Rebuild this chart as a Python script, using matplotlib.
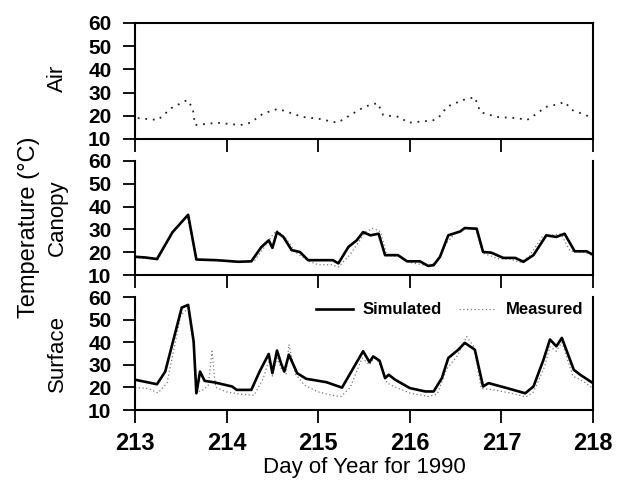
import matplotlib
matplotlib.use("Agg")
import matplotlib.pyplot as plt
from matplotlib.lines import Line2D

plt.rcParams['font.family'] = ['Liberation Sans', 'DejaVu Sans']

# ---------------- data ----------------
air_day = [213.03, 213.25, 213.40, 213.57, 213.63, 213.655, 213.90, 214.15, 214.26, 214.40,
           214.56, 214.67, 214.83, 215.02, 215.21, 215.38, 215.51, 215.65, 215.71, 215.89,
           215.98, 216.25, 216.31, 216.41, 216.58, 216.71, 216.77, 216.95, 217.17, 217.28,
           217.39, 217.48, 217.62, 217.69, 217.77, 217.86, 217.97]
air_meas = [19.0, 18.2, 23.4, 26.8, 23.4, 16.0, 17.0, 16.0, 17.0, 21.0,
            23.0, 21.6, 19.5, 18.6, 17.0, 21.0, 24.0, 25.5, 20.3, 19.5,
            17.0, 18.0, 19.0, 24.0, 26.8, 28.0, 21.6, 19.5, 19.0, 18.2,
            21.0, 23.8, 25.0, 26.0, 22.5, 21.2, 19.5]

can_sim_day = [213.00, 213.11, 213.24, 213.41, 213.58, 213.67, 213.89, 214.13, 214.27, 214.38,
               214.46, 214.50, 214.55, 214.62, 214.71, 214.80, 214.89, 215.02, 215.16, 215.22,
               215.33, 215.42, 215.49, 215.57, 215.66, 215.73, 215.87, 215.97, 216.11, 216.20,
               216.26, 216.33, 216.42, 216.55, 216.60, 216.73, 216.80, 216.89, 217.02, 217.15,
               217.24, 217.35, 217.49, 217.60, 217.69, 217.80, 217.93, 218.00]
can_sim = [18.0, 17.7, 17.0, 28.8, 36.4, 16.8, 16.5, 15.8, 16.0, 22.3,
           25.2, 21.9, 28.8, 26.7, 20.9, 20.1, 16.5, 16.5, 16.5, 15.1,
           22.3, 25.2, 28.8, 27.4, 28.1, 18.7, 18.7, 16.0, 16.0, 14.0,
           14.3, 18.0, 27.4, 29.1, 30.6, 30.3, 20.1, 19.8, 17.5, 17.5,
           15.8, 18.7, 27.4, 26.7, 28.1, 20.4, 20.4, 18.9]

can_meas_day = [213.00, 213.15, 213.25, 213.40, 213.57, 213.67, 213.90, 214.15, 214.30, 214.40,
                214.50, 214.55, 214.65, 214.75, 214.90, 215.00, 215.15, 215.22, 215.35, 215.45,
                215.52, 215.60, 215.68, 215.75, 215.90, 216.00, 216.20, 216.30, 216.40, 216.50,
                216.60, 216.72, 216.80, 216.98, 217.10, 217.20, 217.30, 217.45, 217.55, 217.65,
                217.75, 217.90, 218.00]
can_meas = [17.5, 17.2, 16.8, 28.0, 36.0, 16.5, 16.3, 15.5, 16.0, 21.5,
            27.5, 29.5, 26.0, 20.0, 16.0, 14.5, 14.5, 13.5, 19.0, 25.0,
            29.0, 30.5, 29.0, 18.5, 18.2, 15.5, 14.0, 16.0, 24.0, 28.5,
            30.5, 30.0, 19.5, 17.0, 17.0, 15.5, 18.0, 27.0, 27.5, 28.0,
            20.5, 20.0, 18.5]

sur_sim_day = [213.00, 213.24, 213.33, 213.51, 213.58, 213.64, 213.67, 213.71, 213.76, 213.87,
               214.06, 214.11, 214.27, 214.36, 214.46, 214.50, 214.55, 214.60, 214.63, 214.68,
               214.77, 214.87, 215.09, 215.26, 215.33, 215.49, 215.56, 215.60, 215.67, 215.73,
               215.77, 215.84, 216.00, 216.17, 216.26, 216.35, 216.42, 216.53, 216.60, 216.71,
               216.80, 216.86, 217.06, 217.26, 217.35, 217.46, 217.53, 217.60, 217.66, 217.79,
               217.86, 218.00]
sur_sim = [23.4, 21.4, 27.0, 55.3, 56.5, 40.4, 17.4, 27.0, 22.9, 22.2,
           20.4, 18.9, 18.9, 27.0, 34.8, 26.3, 36.3, 30.0, 27.0, 34.5,
           26.3, 23.8, 22.3, 19.9, 24.8, 36.0, 31.2, 33.7, 31.8, 24.1,
           25.6, 23.4, 19.7, 18.2, 18.2, 24.1, 33.0, 36.7, 39.7, 36.7,
           20.4, 21.9, 19.7, 17.4, 20.4, 32.3, 41.2, 38.2, 41.9, 27.8,
           25.6, 21.9]

sur_meas_day = [213.00, 213.15, 213.25, 213.35, 213.50, 213.58, 213.64, 213.68, 213.75, 213.80,
                213.84, 213.88, 214.00, 214.15, 214.30, 214.40, 214.47, 214.50, 214.55, 214.60,
                214.65, 214.68, 214.75, 214.85, 215.00, 215.15, 215.25, 215.35, 215.48, 215.56,
                215.62, 215.70, 215.75, 215.85, 216.00, 216.20, 216.30, 216.40, 216.52, 216.62,
                216.70, 216.78, 216.90, 217.10, 217.27, 217.35, 217.47, 217.53, 217.60, 217.66,
                217.78, 217.90, 218.00]
sur_meas = [20.0, 19.5, 17.5, 22.0, 52.0, 55.0, 38.0, 18.0, 19.0, 21.0,
            36.0, 20.0, 18.0, 17.0, 16.5, 24.0, 33.0, 25.0, 33.0, 28.0,
            26.0, 39.0, 26.0, 21.0, 18.0, 16.5, 16.0, 20.0, 33.0, 30.0,
            34.0, 28.0, 22.0, 20.0, 17.5, 16.0, 17.0, 28.0, 34.0, 42.5,
            38.0, 19.5, 19.0, 17.5, 15.8, 18.0, 29.0, 38.0, 36.0, 40.0,
            25.0, 22.5, 19.5]

panel_names = ["Air", "Canopy", "Surface"]
x_ticks = [213, 214, 215, 216, 217, 218]
y_ticks = [10, 20, 30, 40, 50, 60]
legend_labels = ["Simulated", "Measured"]

# ---------------- figure ----------------
fig = plt.figure(figsize=(6.26, 4.86), dpi=100)
L, W = 135 / 626, (593 - 135) / 626
boxes = [(23, 139), (161, 275), (297, 410)]
axes = []
for top, bot in boxes:
    ax = fig.add_axes([L, 1 - bot / 486, W, (bot - top) / 486])
    axes.append(ax)

sim_kw = dict(color='black', lw=1.9, solid_joinstyle='round')
meas_kw = dict(color='#7a7a7a', lw=0.9, linestyle=(0, (1, 2)))

axes[0].plot(air_day, air_meas, color='#222222', lw=1.3, linestyle=(0, (1, 3.2)))
axes[1].plot(can_meas_day, can_meas, **meas_kw)
axes[1].plot(can_sim_day, can_sim, **sim_kw)
axes[2].plot(sur_meas_day, sur_meas, **meas_kw)
axes[2].plot(sur_sim_day, sur_sim, **sim_kw)

for i, ax in enumerate(axes):
    ax.set_xlim(x_ticks[0], x_ticks[-1])
    ax.set_ylim(y_ticks[0], y_ticks[-1])
    ax.set_xticks(x_ticks)
    ax.set_yticks(y_ticks)
    for s in ax.spines.values():
        s.set_linewidth(1.5)
    if i > 0:
        ax.spines['top'].set_visible(False)
    ax.tick_params(axis='y', direction='out', length=9, width=1.3, pad=8,
                   labelsize=15)
    ax.tick_params(axis='x', direction='out', length=9, width=1.3, pad=7,
                   labelsize=17)
    for lab in ax.get_yticklabels():
        lab.set_fontweight('bold')
    if i < 2:
        ax.set_xticklabels([])
    else:
        for lab in ax.get_xticklabels():
            lab.set_fontweight('bold')
    top, bot = boxes[i]
    fig.text(57 / 626, 1 - ((top + bot) / 2 + (0 if i else -3)) / 486, panel_names[i],
             rotation=90, ha='center', va='center', fontsize=16)

fig.text(29 / 626, 1 - 227 / 486, "Temperature (°C)", rotation=90,
         ha='center', va='center', fontsize=17)
fig.text((135 + 593) / 2 / 626, 1 - 468 / 486, "Day of Year for 1990",
         ha='center', va='center', fontsize=16)

handles = [Line2D([], [], **sim_kw), Line2D([], [], **meas_kw)]
leg = axes[2].legend(handles, legend_labels, loc='upper right', ncol=2, frameon=False,
                     prop={'weight': 'bold', 'size': 12}, handlelength=2.2,
                     columnspacing=1.0, handletextpad=0.6,
                     bbox_to_anchor=(1.0, 1.04), borderaxespad=0.2)

fig.savefig("out.png", dpi=100)
